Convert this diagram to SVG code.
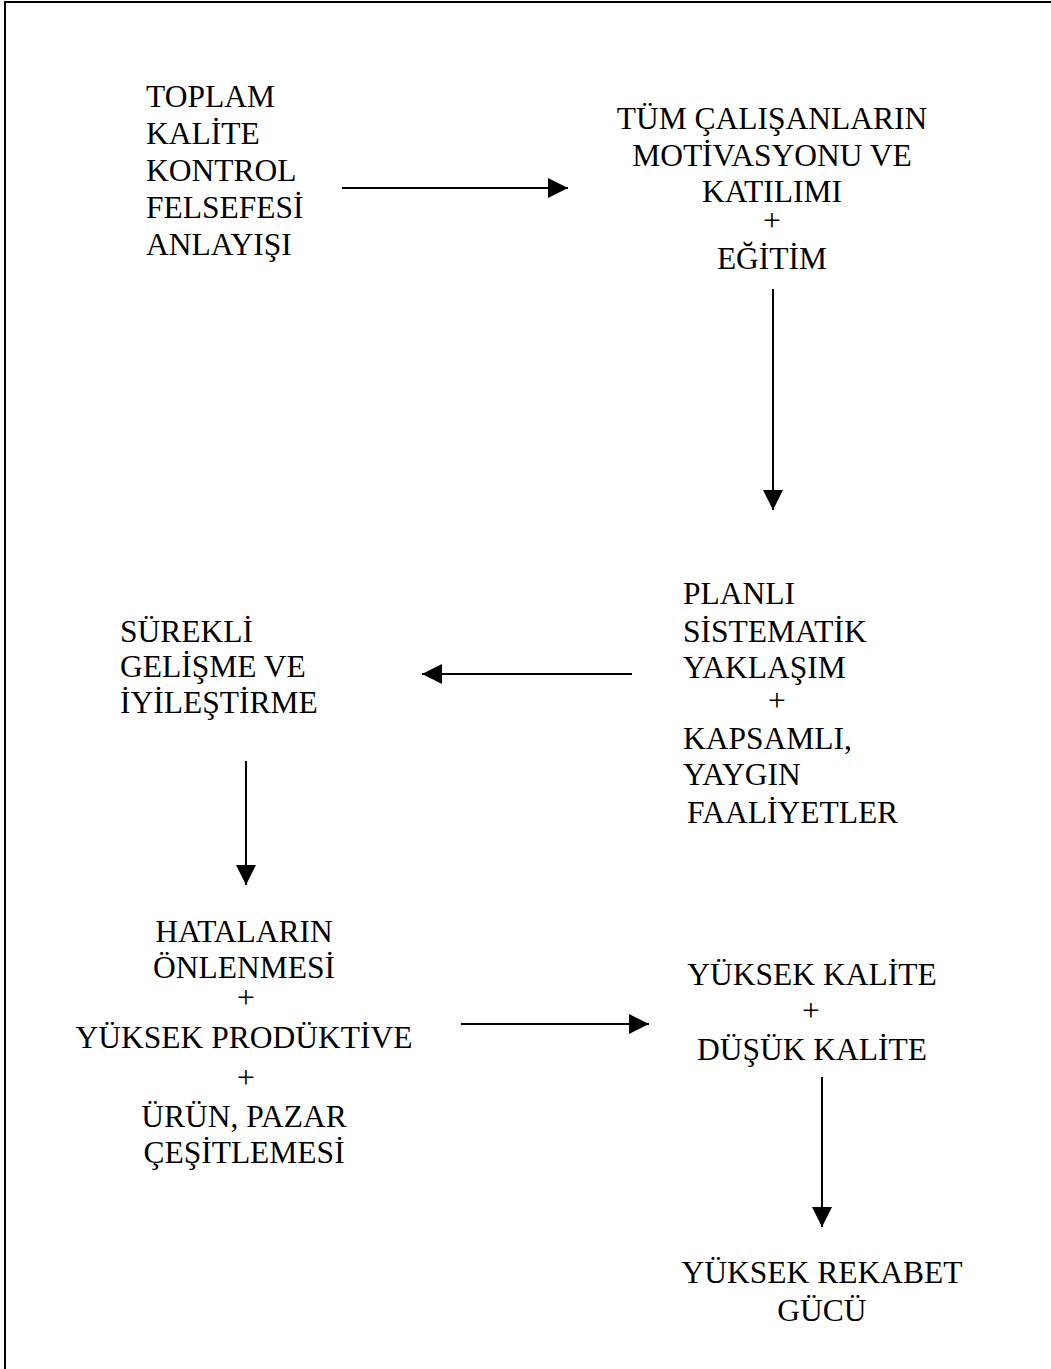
<svg xmlns="http://www.w3.org/2000/svg" width="1051" height="1369" viewBox="0 0 1051 1369">
<style>
text{font-family:"Liberation Serif","Times New Roman",serif;font-size:31.5px;fill:#000}
.c{text-anchor:middle}
.conn line{stroke:#000;stroke-width:2}
.frame{stroke:#000;stroke-width:2;fill:none}
</style>
<defs>
<marker id="ah" markerWidth="20" markerHeight="20" refX="20" refY="10" orient="auto" markerUnits="userSpaceOnUse">
<path d="M0,0 L20,10 L0,20 Z" fill="#000"/>
</marker>
</defs>
<rect width="1051" height="1369" fill="#fff"/>
<path class="frame" d="M5,1369 V2 H1051"/>
<g id="node-tkk">
<text x="146" y="107">TOPLAM</text>
<text x="146" y="144">KALİTE</text>
<text x="146" y="181">KONTROL</text>
<text x="146" y="218">FELSEFESİ</text>
<text x="146" y="255">ANLAYIŞI</text>
</g>
<g id="node-motivasyon" class="c">
<text x="772" y="129">TÜM ÇALIŞANLARIN</text>
<text x="772" y="166">MOTİVASYONU VE</text>
<text x="772" y="202">KATILIMI</text>
<text x="772" y="231">+</text>
<text x="772" y="269">EĞİTİM</text>
</g>
<g id="node-planli">
<text x="683" y="604">PLANLI</text>
<text x="683" y="642">SİSTEMATİK</text>
<text x="683" y="678">YAKLAŞIM</text>
<text x="777" y="711" class="c">+</text>
<text x="683" y="749">KAPSAMLI,</text>
<text x="683" y="785">YAYGIN</text>
<text x="687" y="823">FAALİYETLER</text>
</g>
<g id="node-surekli">
<text x="120" y="642">SÜREKLİ</text>
<text x="120" y="677">GELİŞME VE</text>
<text x="120" y="713">İYİLEŞTİRME</text>
</g>
<g id="node-hatalar" class="c">
<text x="244" y="942">HATALARIN</text>
<text x="244" y="978">ÖNLENMESİ</text>
<text x="246" y="1008">+</text>
<text x="244" y="1048">YÜKSEK PRODÜKTİVE</text>
<text x="246" y="1088">+</text>
<text x="244" y="1127">ÜRÜN, PAZAR</text>
<text x="244" y="1163">ÇEŞİTLEMESİ</text>
</g>
<g id="node-kalite" class="c">
<text x="812" y="985">YÜKSEK KALİTE</text>
<text x="811" y="1021">+</text>
<text x="812" y="1060">DÜŞÜK KALİTE</text>
</g>
<g id="node-rekabet" class="c">
<text x="822" y="1283">YÜKSEK REKABET</text>
<text x="822" y="1321">GÜCÜ</text>
</g>
<g id="connectors" class="conn">
<line x1="342" y1="188" x2="568" y2="188" marker-end="url(#ah)"/>
<line x1="773" y1="289" x2="773" y2="510" marker-end="url(#ah)"/>
<line x1="632" y1="674" x2="422" y2="674" marker-end="url(#ah)"/>
<line x1="246" y1="761" x2="246" y2="885" marker-end="url(#ah)"/>
<line x1="461" y1="1024" x2="649" y2="1024" marker-end="url(#ah)"/>
<line x1="822" y1="1077" x2="822" y2="1227" marker-end="url(#ah)"/>
</g>
</svg>
